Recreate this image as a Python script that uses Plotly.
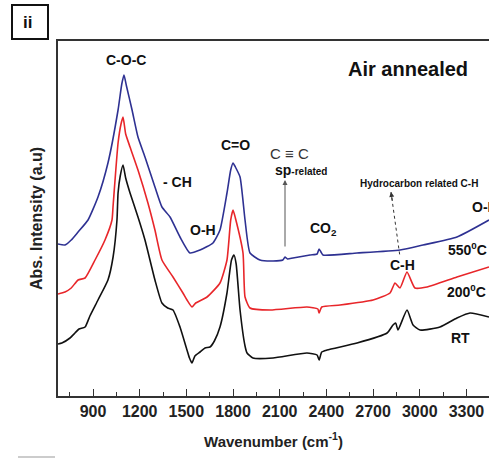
import plotly.graph_objects as go

# ---- data (wavenumber in cm^-1, absorbance in arbitrary units) ----
rt_wn = [675, 700, 752, 784, 810, 849, 880, 932, 996, 1029, 1054, 1061, 1075, 1093, 1110, 1138, 1189,
         1234, 1298, 1343, 1380, 1414, 1459, 1504, 1520, 1536, 1555, 1588, 1620, 1652, 1680, 1716,
         1761, 1790, 1806, 1820, 1845, 1877, 1890, 1928, 2057, 2275, 2340, 2353, 2370, 2404, 2597,
         2790, 2828, 2845, 2860, 2918, 2957, 3002, 3130, 3239, 3323, 3445]
rt_ab = [52, 53, 58, 63, 67, 69, 80, 96, 116, 139, 176, 203, 220, 231, 218, 203, 179,
         156, 116, 93, 88, 86, 69, 46, 38, 33, 40, 44, 48, 49, 55, 69,
         103, 136, 141, 132, 86, 50, 43, 38, 38, 43, 41, 36, 44, 46, 53,
         63, 71, 73, 66, 86, 71, 66, 69, 78, 83, 79]

r200_wn = [675, 720, 760, 804, 849, 913, 977, 1022, 1029, 1061, 1080, 1093, 1110, 1138, 1189, 1253,
           1298, 1343, 1414, 1478, 1504, 1536, 1560, 1633, 1716, 1761, 1785, 1800, 1815, 1864, 1877,
           1909, 2038, 2275, 2345, 2353, 2370, 2488, 2700, 2809, 2841, 2873, 2918, 2969, 3047, 3239, 3445]
r200_ab = [102, 104, 108, 116, 118, 136, 156, 176, 190, 253, 272, 279, 262, 249, 226, 193,
           166, 136, 119, 103, 96, 89, 93, 99, 113, 136, 176, 186, 178, 143, 99,
           88, 86, 89, 87, 83, 89, 91, 96, 103, 113, 108, 124, 108, 109, 119, 129]

r550_wn = [675, 720, 760, 804, 868, 932, 996, 1061, 1085, 1099, 1115, 1151, 1189, 1234, 1298, 1343,
           1395, 1459, 1523, 1588, 1671, 1716, 1761, 1785, 1800, 1815, 1845, 1877, 1909, 1973, 2057,
           2120, 2134, 2150, 2185, 2295, 2340, 2353, 2365, 2378, 2597, 2873, 3021, 3239, 3445]
r550_ab = [152, 151, 156, 164, 176, 199, 233, 286, 312, 321, 310, 286, 259, 239, 209, 189,
           179, 159, 143, 146, 153, 166, 203, 226, 233, 229, 219, 176, 143, 136, 135,
           136, 139, 137, 138, 141, 142, 147, 144, 141, 143, 146, 151, 159, 176]

x_ticks = [900, 1200, 1500, 1800, 2100, 2400, 2700, 3000, 3300]

FONT = "Arial, Liberation Sans, sans-serif"
W, H = 489, 459
L, T, B, R = 58, 41, 396, 489


def px(x):
    return (x - L) / (R - L)


def py(y):
    return (B - y) / (B - T)


fig = go.Figure()
for wn, ab, col in [(rt_wn, rt_ab, "#111111"), (r200_wn, r200_ab, "#e8262a"), (r550_wn, r550_ab, "#2e3192")]:
    fig.add_trace(go.Scatter(x=wn, y=ab, mode="lines",
                             line=dict(color=col, width=1.6, shape="spline", smoothing=0.5),
                             showlegend=False, hoverinfo="skip"))

ann = []


def text(x, y, s, size=14, bold=True, anchor="center", color="#111111"):
    ann.append(dict(x=px(x), y=py(y), xref="paper", yref="paper", text=("<b>%s</b>" % s) if bold else s,
                    showarrow=False, xanchor=anchor, yanchor="middle",
                    font=dict(family=FONT, size=size, color=color)))


text(126, 60, "C-O-C")
text(177, 182, "- CH")
text(203, 230, "O-H")
text(235, 145, "C=O")
text(289, 153, "C \u2261 C", size=15, bold=False, color="#333333")
ann.append(dict(x=px(301), y=py(170), xref="paper", yref="paper", showarrow=False,
                text="<b>sp</b><span style='font-size:10px'><b>-related</b></span>",
                font=dict(family=FONT, size=14, color="#111111")))
text(419, 183, "Hydrocarbon related C-H", size=10)
text(402, 265, "C-H")
text(323, 229, "CO<sub>2</sub>")
text(467, 249, "550<sup>0</sup>C")
text(466, 291, "200<sup>0</sup>C")
text(460, 338, "RT")
text(470, 207, "O-H", anchor="left")
text(408, 69, "Air annealed", size=20)
text(27, 22, "ii", size=17)

# arrows (tail offsets in pixels)
ann.append(dict(x=px(285), y=py(180), ax=0, ay=68, xref="paper", yref="paper",
                axref="pixel", ayref="pixel", showarrow=True, arrowhead=2, arrowsize=1,
                arrowwidth=1, arrowcolor="#555555", text=""))
ann.append(dict(x=px(391), y=py(192), ax=1.5, ay=10, xref="paper", yref="paper",
                axref="pixel", ayref="pixel", showarrow=True, arrowhead=2, arrowsize=1,
                arrowwidth=1, arrowcolor="#333333", text=""))

shapes = [
    dict(type="rect", xref="paper", yref="paper", x0=px(12), x1=px(48), y0=py(39), y1=py(5),
         line=dict(color="#111111", width=2)),
    dict(type="line", xref="paper", yref="paper", x0=px(391), x1=px(400), y0=py(192), y1=py(257),
         line=dict(color="#333333", width=1, dash="dot")),
    dict(type="line", xref="paper", yref="paper", x0=px(18), x1=px(55), y0=py(457), y1=py(457),
         line=dict(color="#999999", width=1)),
]

fig.update_layout(
    width=W, height=H,
    margin=dict(l=L, r=W - R, t=T, b=H - B),
    paper_bgcolor="white", plot_bgcolor="white",
    annotations=ann, shapes=shapes,
    xaxis=dict(range=[675, 3445], tickvals=x_ticks, ticks="inside", ticklen=7, tickwidth=1.3,
               tickcolor="#333333", showline=True, linecolor="#333333", linewidth=1.6, mirror=True,
               showgrid=False, zeroline=False,
               minor=dict(dtick=150, tick0=750, ticks="inside", ticklen=4, tickwidth=1.2, tickcolor="#333333"),
               tickfont=dict(family=FONT, size=16, color="#222222"),
               ticktext=["<b>%d</b>" % v for v in x_ticks],
               title=dict(text="<b>Wavenumber (cm<sup>-1</sup>)</b>", font=dict(family=FONT, size=15, color="#222222"),
                          standoff=17)),
    yaxis=dict(range=[0, 355], showticklabels=False, ticks="", showline=True, linecolor="#333333",
               linewidth=1.6, showgrid=False, zeroline=False,
               title=dict(text="<b>Abs. Intensity (a.u)</b>", font=dict(family=FONT, size=16, color="#222222"),
                          standoff=10)),
)

fig.write_html("out.html", config={"displayModeBar": False},
               post_script="document.body.style.margin='0';document.body.style.overflow='hidden';")
